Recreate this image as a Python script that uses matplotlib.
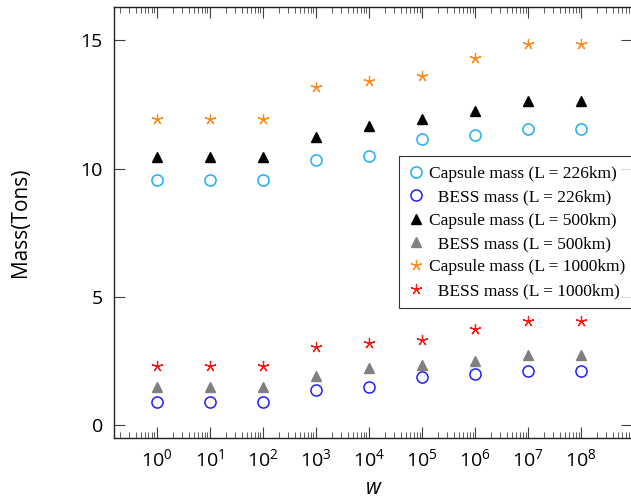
import numpy as np
import matplotlib
matplotlib.use("Agg")
import matplotlib.pyplot as plt
from matplotlib.ticker import LogLocator, FixedLocator, NullFormatter

# data
w = [1e0, 1e1, 1e2, 1e3, 1e4, 1e5, 1e6, 1e7, 1e8]
capsule_226 = [9.55, 9.55, 9.55, 10.33, 10.48, 11.16, 11.33, 11.56, 11.56]
bess_226 = [0.91, 0.91, 0.91, 1.37, 1.47, 1.88, 1.98, 2.12, 2.12]
capsule_500 = [10.44, 10.44, 10.44, 11.24, 11.68, 11.94, 12.23, 12.62, 12.62]
bess_500 = [1.47, 1.47, 1.47, 1.92, 2.21, 2.34, 2.50, 2.74, 2.74]
capsule_1000 = [11.94, 11.94, 11.94, 13.18, 13.40, 13.62, 14.32, 14.87, 14.87]
bess_1000 = [2.31, 2.31, 2.31, 3.05, 3.22, 3.32, 3.74, 4.06, 4.06]

labels = ['Capsule mass (L = 226km)', '  BESS mass (L = 226km)',
          'Capsule mass (L = 500km)', '  BESS mass (L = 500km)',
          'Capsule mass (L = 1000km)', '  BESS mass (L = 1000km)']
x_ticks = [1e0, 1e1, 1e2, 1e3, 1e4, 1e5, 1e6, 1e7, 1e8]
x_ticklabels = [r'$\mathregular{10^{%d}}$' % i for i in range(9)]
y_ticks = [0, 5, 10, 15]

sans = 'Open Sans'
serif = 'Liberation Serif'
plt.rcParams['mathtext.fontset'] = 'custom'
plt.rcParams['mathtext.rm'] = sans

fig = plt.figure(figsize=(6.31, 5.04), dpi=100)
W, H = 631, 504
ax = fig.add_axes([114 / W, (H - 438) / H, (632 - 114) / W, (438 - 7) / H])

star = (5, 2, 0)
ax.plot(w, capsule_226, 'o', ms=8, mfc='none', mec='#1EAEF0', mew=1.1, label=labels[0])
ax.plot(w, bess_226, 'o', ms=8, mfc='none', mec='#1E1EFF', mew=1.1, label=labels[1])
ax.plot(w, capsule_500, '^', ms=7.5, color='black', label=labels[2])
ax.plot(w, bess_500, '^', ms=7.5, color='#808080', label=labels[3])
ax.plot(w, capsule_1000, ls='none', marker=star, ms=8, color='#FF8A1E', mew=0.9, label=labels[4])
ax.plot(w, bess_1000, ls='none', marker=star, ms=8, color='#F51A1A', mew=0.9, label=labels[5])

ax.set_xscale('log')
ax.set_xlim(10 ** -0.805, 10 ** 8.96)
ax.set_ylim(-0.5, 16.3)

ax.xaxis.set_major_locator(FixedLocator(x_ticks))
ax.set_xticklabels(x_ticklabels, fontname=sans, fontsize=14)
ax.xaxis.set_minor_locator(LogLocator(base=10, subs=np.arange(2, 10), numticks=30))
ax.xaxis.set_minor_formatter(NullFormatter())
ax.set_yticks(y_ticks)
ax.set_yticklabels([str(v) for v in y_ticks], fontname=sans, fontsize=14)

ax.tick_params(which='both', direction='in', top=True, right=True, color='#404040')
ax.tick_params(which='major', length=8, width=0.8)
ax.tick_params(axis='x', which='major', pad=7)
ax.tick_params(axis='y', which='major', pad=8)
ax.tick_params(which='minor', length=4.5, width=0.6)
for s in ax.spines.values():
    s.set_color('#202020')
    s.set_linewidth(1.0)

ax.set_xlabel('w', fontname=sans, fontsize=15, style='italic', va='center')
ax.set_ylabel('Mass(Tons)', fontname=sans, fontsize=15, va='center')
ax.xaxis.set_label_coords(0.5, (438 - 489) / 431)
ax.yaxis.set_label_coords((21 - 114) / 518, 0.5)

leg = ax.legend(loc='upper left', bbox_to_anchor=(399 / W, 1 - 156 / H),
                bbox_transform=fig.transFigure, borderaxespad=0,
                prop={'family': serif, 'size': 12.5}, frameon=True, fancybox=False,
                edgecolor='black', handlelength=0.9, handletextpad=0.3,
                labelspacing=0.42, borderpad=0.55)
leg.get_frame().set_linewidth(0.8)

fig.savefig('out.png', dpi=100)
